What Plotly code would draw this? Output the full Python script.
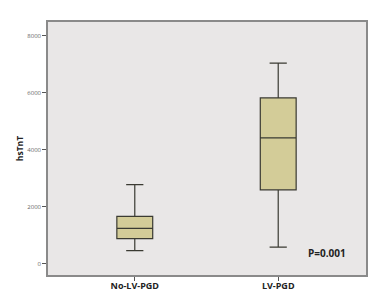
import plotly.graph_objects as go

categories = ["No-LV-PGD", "LV-PGD"]
lower_whisker = [470, 590]
q1_vals = [890, 2600]
medians = [1250, 4420]
q3_vals = [1670, 5820]
upper_whisker = [2780, 7040]
y_ticks = [0, 2000, 4000, 6000, 8000]
p_text = "P=0.001"

fig = go.Figure()
fig.add_trace(go.Box(
    x=categories,
    q1=q1_vals, median=medians, q3=q3_vals,
    lowerfence=lower_whisker, upperfence=upper_whisker,
    fillcolor="#D3CC98",
    line=dict(color="#3a3a32", width=1.2),
    width=0.25,
    whiskerwidth=0.48,
    boxpoints=False,
    hoverinfo="skip",
    showlegend=False,
))

fig.add_annotation(
    x=1.0, y=0, xref="paper", yref="paper",
    xanchor="right", yanchor="bottom", xshift=-18, yshift=13,
    text="<b>" + p_text + "</b>", showarrow=False,
    font=dict(family="Open Sans, Arial", size=10, color="#222"),
)

fig.update_layout(
    width=377, height=303,
    margin=dict(l=40, r=19, t=14, b=36),
    paper_bgcolor="white",
    plot_bgcolor="#E9E7E7",
    xaxis=dict(
        type="category",
        range=[-0.605, 1.612],
        showgrid=False, zeroline=False,
        showline=True, linecolor="#8a8a8a", linewidth=1.5, mirror=True,
        ticks="outside", ticklen=4, tickcolor="#555",
        ticklabelstandoff=-3,
        tickfont=dict(family="Open Sans, Arial", size=9, color="#222", weight="bold"),
    ),
    yaxis=dict(
        range=[-386, 8480],
        tickvals=y_ticks,
        ticktext=[str(v) for v in y_ticks],
        showgrid=False, zeroline=False,
        showline=True, linecolor="#8a8a8a", linewidth=1.5, mirror=True,
        ticks="outside", ticklen=4, tickcolor="#555",
        tickfont=dict(family="Open Sans, Arial", size=6, color="#666"),
        title=dict(text="<b>hsTnT</b>", font=dict(family="Open Sans, Arial", size=8.5, color="#222"), standoff=2),
    ),
)

fig.write_html("out.html")
